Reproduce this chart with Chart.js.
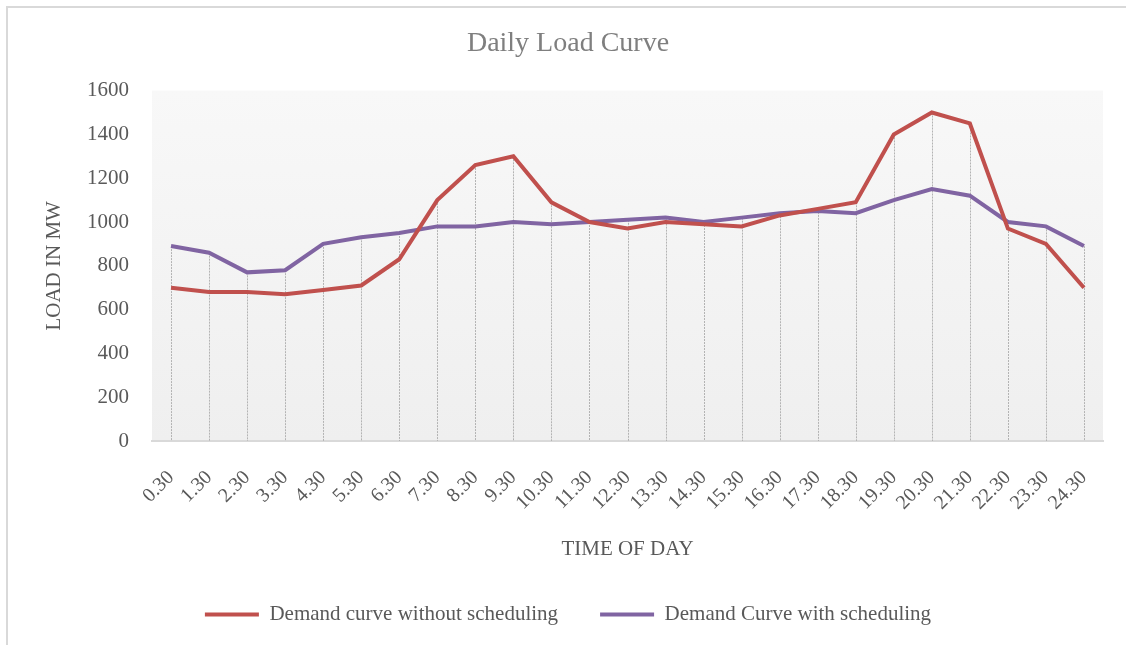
<!DOCTYPE html>
<html>
<head>
<meta charset="utf-8">
<title>Daily Load Curve</title>
<script src="https://cdn.jsdelivr.net/npm/chart.js@4/dist/chart.umd.min.js"></script>
<style>
    html, body { margin: 0; padding: 0; background: #ffffff; }
    #wrap { width: 1126px; height: 645px; position: relative; }
</style>
</head>
<body>
<div id="wrap"><canvas id="loadChart" width="1126" height="645"></canvas></div>
<script>
// heures de la journée
const timeLabels = ['0.30', '1.30', '2.30', '3.30', '4.30', '5.30', '6.30', '7.30', '8.30', '9.30',
    '10.30', '11.30', '12.30', '13.30', '14.30', '15.30', '16.30', '17.30', '18.30', '19.30',
    '20.30', '21.30', '22.30', '23.30', '24.30'];

const withoutScheduling = [700, 680, 680, 670, 690, 710, 830, 1100, 1260, 1300,
    1090, 1000, 970, 1000, 990, 980, 1030, 1060, 1090, 1400,
    1500, 1450, 970, 900, 700];

const withScheduling = [890, 860, 770, 780, 900, 930, 950, 980, 980, 1000,
    990, 1000, 1010, 1020, 1000, 1020, 1040, 1050, 1040, 1100,
    1150, 1120, 1000, 980, 890];

const yTicks = [0, 200, 400, 600, 800, 1000, 1200, 1400, 1600];

const serif = '"Liberation Serif", "Times New Roman", serif';
const textGrey = '#595959';

// cadre gris (haut et gauche) + fond dégradé de la zone de tracé
const backgroundPlugin = {
    id: 'backgroundPlugin',
    beforeDraw(chart) {
        const ctx = chart.ctx;
        const area = chart.chartArea;
        ctx.save();
        ctx.strokeStyle = '#d9d9d9';
        ctx.lineWidth = 2;
        ctx.beginPath();
        ctx.moveTo(7, chart.height);
        ctx.lineTo(7, 7);
        ctx.lineTo(chart.width, 7);
        ctx.stroke();

        const grad = ctx.createLinearGradient(0, area.top, 0, area.bottom);
        grad.addColorStop(0, '#f8f8f8');
        grad.addColorStop(1, '#efefef');
        ctx.fillStyle = grad;
        ctx.fillRect(area.left, area.top, area.right - area.left, area.bottom - area.top);
        ctx.restore();
    }
};

// lignes de projection pointillées, du point le plus haut jusqu'à l'axe
const dropLinesPlugin = {
    id: 'dropLines',
    beforeDatasetsDraw(chart) {
        const ctx = chart.ctx;
        const xScale = chart.scales.x;
        const yScale = chart.scales.y;
        ctx.save();
        ctx.strokeStyle = '#b3b3b3';
        ctx.lineWidth = 1;
        ctx.setLineDash([2, 1]);
        timeLabels.forEach((label, i) => {
            const top = Math.max(withoutScheduling[i], withScheduling[i]);
            const x = Math.round(xScale.getPixelForValue(i)) + 0.5;
            ctx.beginPath();
            ctx.moveTo(x, yScale.getPixelForValue(top));
            ctx.lineTo(x, yScale.getPixelForValue(0));
            ctx.stroke();
        });
        ctx.restore();
    }
};

const ctx = document.getElementById('loadChart').getContext('2d');

new Chart(ctx, {
    type: 'line',
    data: {
        labels: timeLabels,
        datasets: [{
            label: 'Demand curve without scheduling',
            data: withoutScheduling,
            borderColor: '#c0504d',
            backgroundColor: '#c0504d',
            borderWidth: 4,
            pointRadius: 0,
            tension: 0
        }, {
            label: 'Demand Curve with scheduling',
            data: withScheduling,
            borderColor: '#8064a2',
            backgroundColor: '#8064a2',
            borderWidth: 4,
            pointRadius: 0,
            tension: 0
        }]
    },
    options: {
        responsive: false,
        animation: false,
        layout: {
            padding: { left: 10, right: 0, top: 0, bottom: 10 }
        },
        plugins: {
            title: {
                display: true,
                text: 'Daily Load Curve',
                color: '#7f7f7f',
                font: { family: serif, size: 28, weight: 'normal' },
                padding: { top: 27, bottom: 30 }
            },
            legend: {
                position: 'bottom',
                labels: {
                    color: textGrey,
                    font: { family: serif, size: 21 },
                    usePointStyle: true,
                    pointStyle: 'line',
                    pointStyleWidth: 54,
                    padding: 42
                }
            },
            tooltip: { enabled: false }
        },
        scales: {
            x: {
                offset: true,
                grid: { display: false, drawTicks: false },
                border: { display: true, color: '#d9d9d9', width: 2 },
                ticks: {
                    color: textGrey,
                    font: { family: serif, size: 20 },
                    minRotation: 45,
                    maxRotation: 45,
                    autoSkip: false,
                    padding: 25
                },
                title: {
                    display: true,
                    text: 'TIME OF DAY',
                    color: textGrey,
                    font: { family: serif, size: 21 },
                    padding: { top: 0, bottom: 0 }
                },
                afterFit(scale) {
                    scale.height = 121;
                    // marge à droite de la zone de tracé
                    scale.paddingRight = 23;
                }
            },
            y: {
                min: 0,
                max: 1600,
                grid: { display: false, drawTicks: false },
                border: { display: false },
                afterBuildTicks(scale) {
                    scale.ticks = yTicks.map(v => ({ value: v }));
                },
                ticks: {
                    color: textGrey,
                    font: { family: serif, size: 21 },
                    padding: 23,
                    callback: value => String(value)
                },
                title: {
                    display: true,
                    text: 'LOAD IN MW',
                    color: textGrey,
                    font: { family: serif, size: 21 },
                    padding: { top: 32, bottom: 0 }
                },
                afterFit(scale) {
                    scale.width = 142;
                }
            }
        }
    },
    plugins: [backgroundPlugin, dropLinesPlugin]
});
</script>
</body>
</html>
